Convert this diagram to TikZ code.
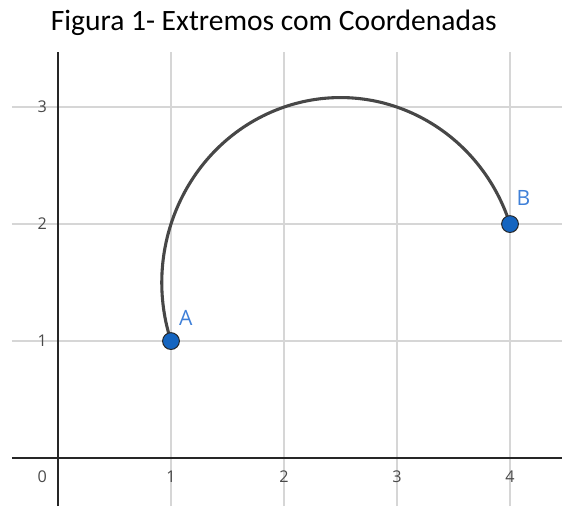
\documentclass[tikz,border=0pt]{standalone}
\usepackage{fontspec}
\setmainfont{Carlito}
\newfontfamily\ticksfont{Open Sans}
\usepackage{xcolor}
\usetikzlibrary{positioning}

\definecolor{gridgray}{HTML}{D6D6D6}
\definecolor{ptblue}{HTML}{1565C0}
\definecolor{lblblue}{HTML}{3F80D8}
\definecolor{arcgray}{HTML}{474747}
\definecolor{tickgray}{HTML}{4A4A4A}

\begin{document}
\begin{tikzpicture}[x=2.825cm, y=2.925cm,
  gridline/.style={draw=gridgray, line width=1.1pt},
  axisline/.style={draw=black!85, line width=1.3pt},
  ticklbl/.style={text=tickgray, font=\ticksfont\fontsize{11.5}{11.5}\selectfont, inner sep=0pt},
  arcline/.style={draw=arcgray, line width=2.2pt},
  pt/.style={circle, draw=black!85, fill=ptblue, line width=0.7pt, minimum size=0.42cm, inner sep=0pt},
  ptlbl/.style={text=lblblue, font=\ticksfont\fontsize{15}{15}\selectfont, inner sep=0pt}]
  \useasboundingbox (-0.513,-0.410) rectangle (4.460,3.915);
  % grid
  \foreach \i in {1,...,4} {\draw[gridline] (\i,-0.410) -- (\i,3.47);}
  \foreach \j in {1,2,3} {\draw[gridline] (-0.407,\j) -- (4.460,\j);}
  % axes
  \draw[axisline] (0,-0.410) -- (0,3.47);
  \draw[axisline] (-0.407,0) -- (4.460,0);
  \node[ticklbl] (t0) at (-0.14,-0.16) {0};
  \foreach \i in {1,...,4} {\node[ticklbl] (tx\i) at (\i,-0.16) {\i};}
  \foreach \j in {1,2,3} {\node[ticklbl] (ty\j) at (-0.14,\j) {\j};}
  % arc between the two points
  \coordinate (a) at (1,1);
  \coordinate (b) at (4,2);
  \draw[arcline] (a) arc[start angle=198.43, end angle=18.43, radius=1.5811];
  \node[pt] (A) at (a) {};
  \node[pt] (B) at (b) {};
  \node[ptlbl] (labA) at (1.13,1.20) {A};
  \node[ptlbl] (labB) at (4.12,2.22) {B};
  \node[font=\fontsize{21}{21}\selectfont] (title) at (1.91,3.72) {Figura 1- Extremos com Coordenadas};
\end{tikzpicture}
\end{document}
